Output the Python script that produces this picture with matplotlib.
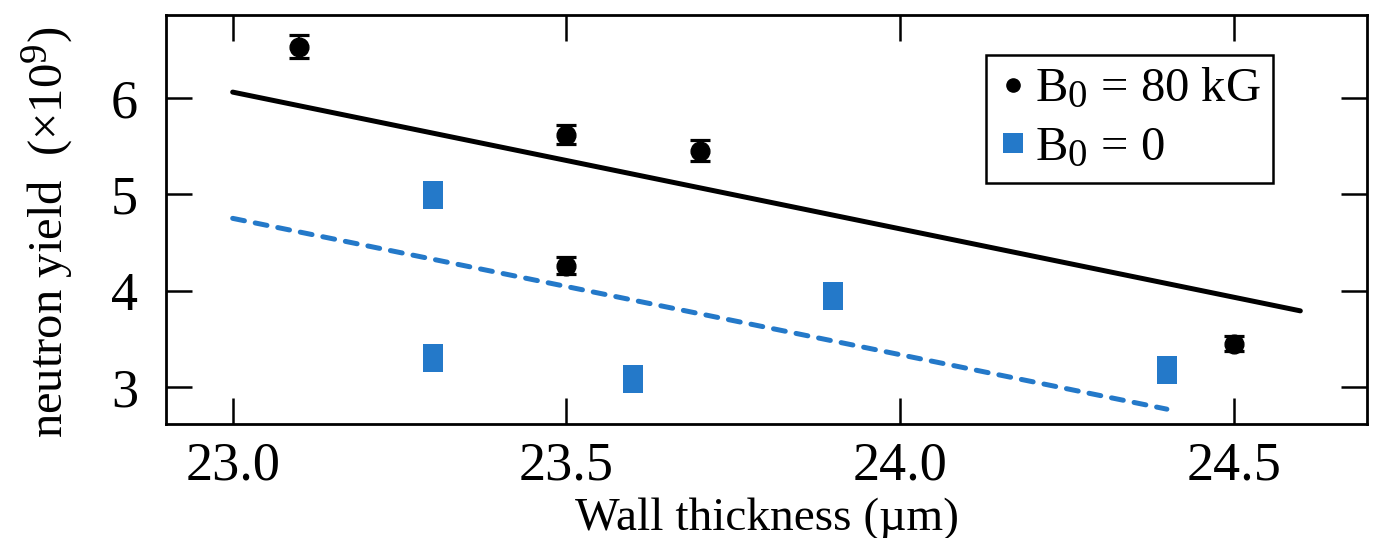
import matplotlib
matplotlib.use('Agg')
import matplotlib.pyplot as plt
import matplotlib._mathtext as mathtext_internal
from matplotlib.lines import Line2D

plt.rcParams['font.family'] = ['Liberation Serif', 'DejaVu Serif']
plt.rcParams['mathtext.fontset'] = 'custom'
plt.rcParams['mathtext.rm'] = 'Liberation Serif'
plt.rcParams['mathtext.it'] = 'Liberation Serif:italic'
plt.rcParams['mathtext.bf'] = 'Liberation Serif:bold'
# larger sub/superscripts
mathtext_internal.SHRINK_FACTOR = 0.8

# B0 = 80 kG shots (with error bars)
thick_b80 = [23.1, 23.5, 23.7, 23.5, 24.5]
yield_b80 = [6.53, 5.62, 5.45, 4.26, 3.45]
err_b80 = [0.12, 0.10, 0.11, 0.09, 0.08]

# B0 = 0 shots
thick_b0 = [23.3, 23.3, 23.6, 23.9, 24.4]
yield_b0 = [4.99, 3.30, 3.08, 3.94, 3.18]

# trend lines (end points)
fit_b80_x = [23.0, 24.6]
fit_b80_y = [6.06, 3.79]
fit_b0_x = [23.0, 24.4]
fit_b0_y = [4.75, 2.77]

blue = '#2479c9'
rect = [(-0.74, -1), (0.74, -1), (0.74, 1), (-0.74, 1), (-0.74, -1)]

fig = plt.figure(figsize=(13.76, 5.38), dpi=100)
ax = fig.add_axes([0.1206, 0.2119, 0.8729, 0.7602])

ax.plot(fit_b80_x, fit_b80_y, color='black', lw=3.6, solid_capstyle='round', zorder=2)
ax.plot(fit_b0_x, fit_b0_y, color=blue, lw=3.6, dashes=(2.4, 2.2),
        dash_capstyle='round', zorder=2)

ax.errorbar(thick_b80, yield_b80, yerr=err_b80, fmt='o', color='black', ms=13.5,
            elinewidth=1.6, capsize=7.5, capthick=2.3, zorder=3)
ax.plot(thick_b0, yield_b0, ls='none', marker=rect, ms=19.5, color=blue,
        markeredgewidth=0, zorder=3)

ax.set_xlim(22.9, 24.7)
ax.set_ylim(2.616, 6.86)
ax.set_xticks([23.0, 23.5, 24.0, 24.5])
ax.set_xticklabels(['23.0', '23.5', '24.0', '24.5'])
ax.set_yticks([3, 4, 5, 6])

ax.tick_params(direction='in', length=18.7, width=1.8, top=True, right=True,
               labelsize=39)
ax.tick_params(axis='x', pad=12)
ax.tick_params(axis='y', pad=20)
for s in ax.spines.values():
    s.set_linewidth(2.0)

ax.set_xlabel('Wall thickness (\u00b5m)', fontsize=34)
ax.xaxis.set_label_coords(0.5, -0.18)
ax.set_ylabel('neutron yield  (\u00d710$^9$)', fontsize=35)
ax.yaxis.set_label_coords(-0.076, 0.47)

handles = [
    Line2D([], [], ls='none', marker='o', ms=9.5, color='black'),
    Line2D([], [], ls='none', marker='s', ms=14, color=blue, markeredgewidth=0),
]
leg = ax.legend(handles, ['B$_0$ = 80 kG', 'B$_0$ = 0'], loc='upper right',
                bbox_to_anchor=(0.9217, 0.902), borderaxespad=0, fontsize=35,
                frameon=True, fancybox=False, edgecolor='black', framealpha=1,
                handlelength=0.6, handletextpad=0.15, labelspacing=0.3,
                borderpad=0.25)
leg.get_frame().set_linewidth(1.8)

fig.savefig('out.png', dpi=100)
